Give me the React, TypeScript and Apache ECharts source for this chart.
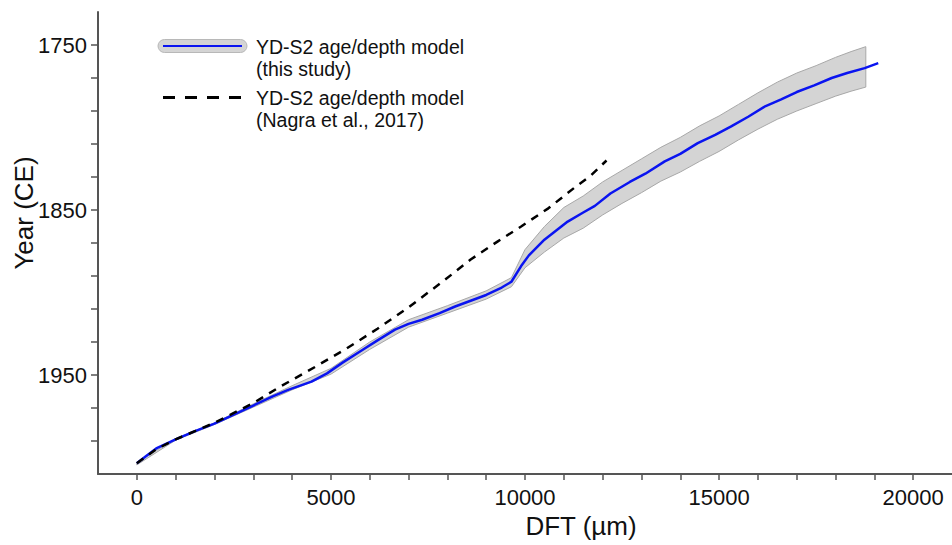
import React, { useEffect, useRef } from "react";
import * as echarts from "echarts";

// Blue median age/depth model (this study)
const modelDft = [0, 250, 500, 1000, 1500, 2000, 2500, 3000, 3500, 3900, 4500, 4900, 5300, 5800, 6200, 6650, 7000, 7350, 7800, 8200, 8600, 9000, 9400, 9650, 9900, 10100, 10500, 11100, 11500, 11800, 12200, 12700, 13100, 13600, 14000, 14450, 14900, 15300, 15750, 16200, 16600, 17000, 17450, 17900, 18300, 18750, 19100];
const modelYear = [2003.5, 1999, 1994.5, 1989, 1984, 1979.5, 1974, 1968.5, 1963, 1959, 1954, 1949, 1942.5, 1935, 1929, 1922.5, 1919, 1916.5, 1912.5, 1908.5, 1905, 1901.5, 1897, 1893.5, 1884, 1877.5, 1868, 1857, 1851.5, 1847.5, 1840, 1833, 1828, 1820.5, 1816, 1809.5, 1804.5, 1799.5, 1793.5, 1787, 1783, 1778.5, 1774.5, 1770, 1767, 1764, 1761];

// Uncertainty band (older / younger bounds)
const bandDft = [0, 1000, 2000, 3000, 4000, 5000, 6000, 7000, 8000, 9000, 9650, 10000, 10500, 11000, 11500, 12000, 12500, 13000, 13500, 14000, 14500, 15000, 15500, 16000, 16500, 17000, 17500, 18000, 18400, 18780];
const bandOld = [2003, 1988.5, 1979, 1967.5, 1956.5, 1946, 1930, 1916.5, 1908, 1899, 1891, 1874, 1860, 1848.5, 1841.5, 1833, 1826, 1819, 1812, 1806, 1799, 1793, 1786, 1779, 1772.5, 1767, 1762.5, 1757.5, 1754, 1751];
const bandYoung = [2004.5, 1989.5, 1980, 1969.5, 1959, 1949.5, 1934.5, 1921, 1912.5, 1904, 1896.5, 1885, 1875.5, 1867, 1861, 1853, 1846, 1839.5, 1832.5, 1827, 1820.5, 1814.5, 1807.5, 1801, 1795, 1790, 1785.5, 1781, 1778, 1775.5];

// Nagra et al., 2017 model (dashed)
const nagraDft = [0, 500, 1000, 2000, 3000, 3700, 4600, 5400, 6200, 7000, 7900, 8600, 9300, 9900, 10600, 11300, 11700, 12100];
const nagraYear = [2003.5, 1995, 1989, 1979, 1967, 1957, 1945, 1934, 1922, 1909, 1893, 1880, 1869, 1860, 1849, 1836, 1829, 1820];

const xTicks = [0, 1000, 2000, 3000, 4000, 5000, 6000, 7000, 8000, 9000, 10000, 11000, 12000, 13000, 14000, 15000, 16000, 17000, 18000, 19000, 20000];
const xLabels = [0, 5000, 10000, 15000, 20000];
const yTicks = [1750, 1770, 1790, 1810, 1830, 1850, 1870, 1890, 1910, 1930, 1950, 1970, 1990];
const yLabels = [1750, 1850, 1950];

const legendLabels = ["YD-S2 age/depth model", "(this study)", "YD-S2 age/depth model", "(Nagra et al., 2017)"];

const FONT = '"Liberation Sans", Arial, sans-serif';
const AXIS_COLOR = "#555555";

export default function App() {
  const ref = useRef<HTMLDivElement>(null);
  useEffect(() => {
    if (!ref.current) return;
    const chart = echarts.init(ref.current, null, { renderer: "svg" });
    const zip = (xs: number[], ys: number[]) => xs.map((x, i) => [x, ys[i]]);
    const option = {
      animation: false,
      backgroundColor: "#ffffff",
      grid: { left: 98, top: 12, width: 855, height: 462, containLabel: false },
      xAxis: {
        type: "value",
        min: -1000,
        max: 21000,
        axisLine: { show: true, onZero: false, lineStyle: { color: AXIS_COLOR, width: 2 } },
        axisTick: { show: true, customValues: xTicks, length: 6, lineStyle: { color: AXIS_COLOR, width: 1.5 } },
        axisLabel: {
          customValues: xLabels,
          margin: 12,
          fontSize: 22,
          color: "#111",
          fontFamily: FONT,
          formatter: (v: number) => String(v),
        },
        splitLine: { show: false },
      },
      yAxis: {
        type: "value",
        inverse: true,
        min: 1730,
        max: 2010,
        axisLine: { show: true, onZero: false, lineStyle: { color: AXIS_COLOR, width: 2 } },
        axisTick: { show: true, customValues: yTicks, length: 7, lineStyle: { color: AXIS_COLOR, width: 1.5 } },
        axisLabel: {
          customValues: yLabels,
          margin: 11,
          fontSize: 22,
          color: "#111",
          fontFamily: FONT,
          formatter: (v: number) => String(v),
        },
        splitLine: { show: false },
      },
      series: [
        {
          name: "band",
          type: "custom",
          data: bandDft.map((x, i) => [x, bandOld[i], bandYoung[i]]),
          encode: { x: 0, y: [1, 2] },
          silent: true,
          z: 1,
          renderItem: (params: any, api: any) => {
            if (params.dataIndex !== 0) return null;
            const upper = bandDft.map((x, i) => api.coord([x, bandOld[i]]));
            const lower = bandDft.map((x, i) => api.coord([x, bandYoung[i]])).reverse();
            return {
              type: "polygon",
              shape: { points: upper.concat(lower) },
              style: { fill: "#d4d4d4", stroke: "#a8a8a8", lineWidth: 1 },
            };
          },
        },
        {
          name: "YD-S2 age/depth model (this study)",
          type: "line",
          data: zip(modelDft, modelYear),
          symbol: "none",
          z: 3,
          lineStyle: { color: "#0a14f0", width: 2.5 },
        },
        {
          name: "YD-S2 age/depth model (Nagra et al., 2017)",
          type: "line",
          data: zip(nagraDft, nagraYear),
          symbol: "none",
          z: 4,
          lineStyle: { color: "#000000", width: 2.5, type: [8, 7] },
        },
      ],
      graphic: [
        {
          type: "rect",
          z: 100,
          shape: { x: 158, y: 39.5, width: 89, height: 13, r: 6.5 },
          style: { fill: "#d4d4d4", stroke: "#b8b8b8", lineWidth: 1 },
        },
        {
          type: "line",
          z: 101,
          shape: { x1: 163, y1: 46, x2: 242, y2: 46 },
          style: { stroke: "#0a14f0", lineWidth: 2 },
        },
        {
          type: "line",
          z: 101,
          shape: { x1: 163, y1: 97.5, x2: 242, y2: 97.5 },
          style: { stroke: "#000000", lineWidth: 3, lineDash: [12, 10] },
        },
        ...legendLabels.map((t, i) => ({
          type: "text",
          z: 101,
          x: 256,
          y: [47, 69, 98, 120][i],
          style: { text: t, fontSize: 19.5, fontFamily: FONT, fill: "#111", align: "left", verticalAlign: "middle" },
        })),
        {
          type: "text",
          z: 101,
          x: 581,
          y: 526,
          style: { text: "DFT (µm)", fontSize: 26, fontFamily: FONT, fill: "#111", align: "center", verticalAlign: "middle" },
        },
        {
          type: "text",
          z: 101,
          x: 24,
          y: 213,
          rotation: Math.PI / 2,
          style: { text: "Year (CE)", fontSize: 26, fontFamily: FONT, fill: "#111", align: "center", verticalAlign: "middle" },
        },
      ],
    };
    chart.setOption(option as any);
    return () => chart.dispose();
  }, []);
  return (
    <div
      ref={ref}
      style={{ position: "fixed", left: 0, top: 0, width: 952, height: 545, background: "#fff" }}
    />
  );
}
